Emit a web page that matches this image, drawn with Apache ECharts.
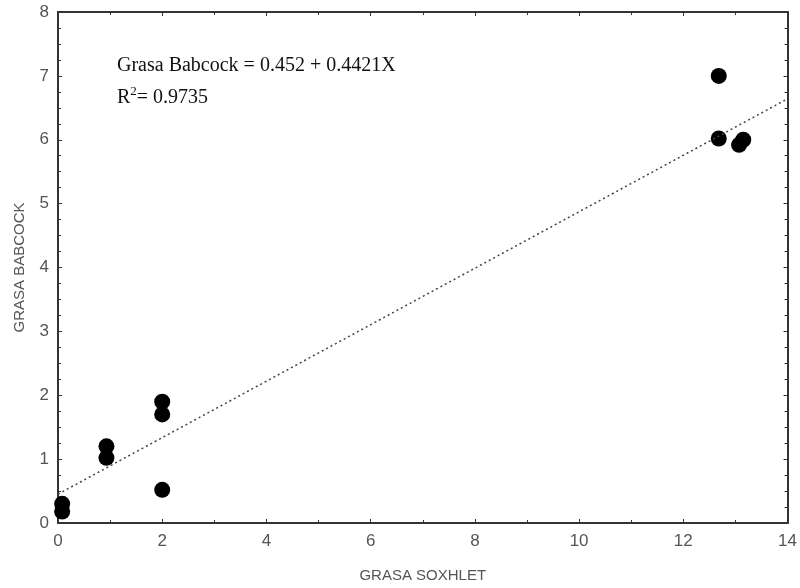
<!DOCTYPE html>
<html>
<head>
<meta charset="utf-8">
<script src="https://cdn.jsdelivr.net/npm/echarts@6/dist/echarts.min.js"></script>
<style>
  html, body { margin: 0; padding: 0; background: #fff; }
  #chart { width: 800px; height: 588px; }
</style>
</head>
<body>
<div id="chart"></div>
<script>
  // Grasa Soxhlet (x) vs Grasa Babcock (y)
  var soxhlet = [0.08, 0.08, 0.93, 0.93, 2.0, 2.0, 2.0, 12.68, 12.68, 13.07, 13.15];
  var babcock = [0.3, 0.18, 1.2, 1.02, 1.9, 1.7, 0.52, 7.0, 6.02, 5.92, 6.0];
  // regression line ends, from Grasa Babcock = 0.452 + 0.4421X
  var trendX = [0, 14];
  var trendY = [0.452, 6.641];

  var points = soxhlet.map(function (x, i) { return [x, babcock[i]]; });
  var trend = trendX.map(function (x, i) { return [x, trendY[i]]; });

  var axisColor = '#333';
  var labelColor = '#555';

  var chart = echarts.init(document.getElementById('chart'));
  chart.setOption({
    animation: false,
    backgroundColor: '#fff',
    grid: { left: 58, right: 10, top: 12, bottom: 64 },
    xAxis: [
      {
        type: 'value', min: 0, max: 14, interval: 2,
        name: 'GRASA SOXHLET', nameLocation: 'middle', nameGap: 45,
        nameTextStyle: { color: labelColor, fontSize: 15, fontFamily: 'Liberation Sans' },
        axisLine: { show: true, onZero: false, lineStyle: { color: axisColor, width: 2 } },
        axisTick: { show: true, inside: true, length: 4, lineStyle: { color: axisColor } },
        minorTick: { show: true, splitNumber: 2, length: 3, lineStyle: { color: axisColor } },
        axisLabel: { color: labelColor, fontSize: 17, margin: 10, fontFamily: 'Liberation Sans' },
        splitLine: { show: false }
      },
      {
        type: 'value', min: 0, max: 14, interval: 2, position: 'top',
        axisLine: { show: true, onZero: false, lineStyle: { color: axisColor, width: 2 } },
        axisTick: { show: true, inside: true, length: 4, lineStyle: { color: axisColor } },
        minorTick: { show: true, splitNumber: 2, length: 3, lineStyle: { color: axisColor } },
        axisLabel: { show: false },
        splitLine: { show: false }
      }
    ],
    yAxis: [
      {
        type: 'value', min: 0, max: 8, interval: 1,
        name: 'GRASA BABCOCK', nameLocation: 'middle', nameGap: 31,
        nameTextStyle: { color: labelColor, fontSize: 15, fontFamily: 'Liberation Sans' },
        axisLine: { show: true, onZero: false, lineStyle: { color: axisColor, width: 2 } },
        axisTick: { show: true, inside: true, length: 4, lineStyle: { color: axisColor } },
        minorTick: { show: true, splitNumber: 4, length: 3, lineStyle: { color: axisColor } },
        axisLabel: { color: labelColor, fontSize: 17, margin: 9, fontFamily: 'Liberation Sans' },
        splitLine: { show: false }
      },
      {
        type: 'value', min: 0, max: 8, interval: 1, position: 'right',
        axisLine: { show: true, onZero: false, lineStyle: { color: axisColor, width: 2 } },
        axisTick: { show: true, inside: true, length: 4, lineStyle: { color: axisColor } },
        minorTick: { show: true, splitNumber: 4, length: 3, lineStyle: { color: axisColor } },
        axisLabel: { show: false },
        splitLine: { show: false }
      }
    ],
    graphic: [
      {
        type: 'text', left: 117, top: 50,
        style: {
          text: '{t|Grasa Babcock = 0.452 + 0.4421X}\n{t|R}{s|2}{t|= 0.9735}',
          rich: {
            t: { fontSize: 20, lineHeight: 32, fill: '#111', fontFamily: 'Liberation Serif' },
            s: { fontSize: 13, lineHeight: 32, fill: '#111', fontFamily: 'Liberation Serif', padding: [0, 0, 12, 0] }
          },
          fill: '#111', fontSize: 20, lineHeight: 32,
          fontFamily: 'Liberation Serif'
        }
      }
    ],
    series: [
      {
        type: 'line', data: trend, showSymbol: false, silent: true,
        lineStyle: { color: '#444', width: 1.5, type: [2, 3] }
      },
      {
        type: 'scatter', data: points, symbol: 'circle', symbolSize: 16,
        itemStyle: { color: '#000', opacity: 1 }
      }
    ]
  });
</script>
</body>
</html>
